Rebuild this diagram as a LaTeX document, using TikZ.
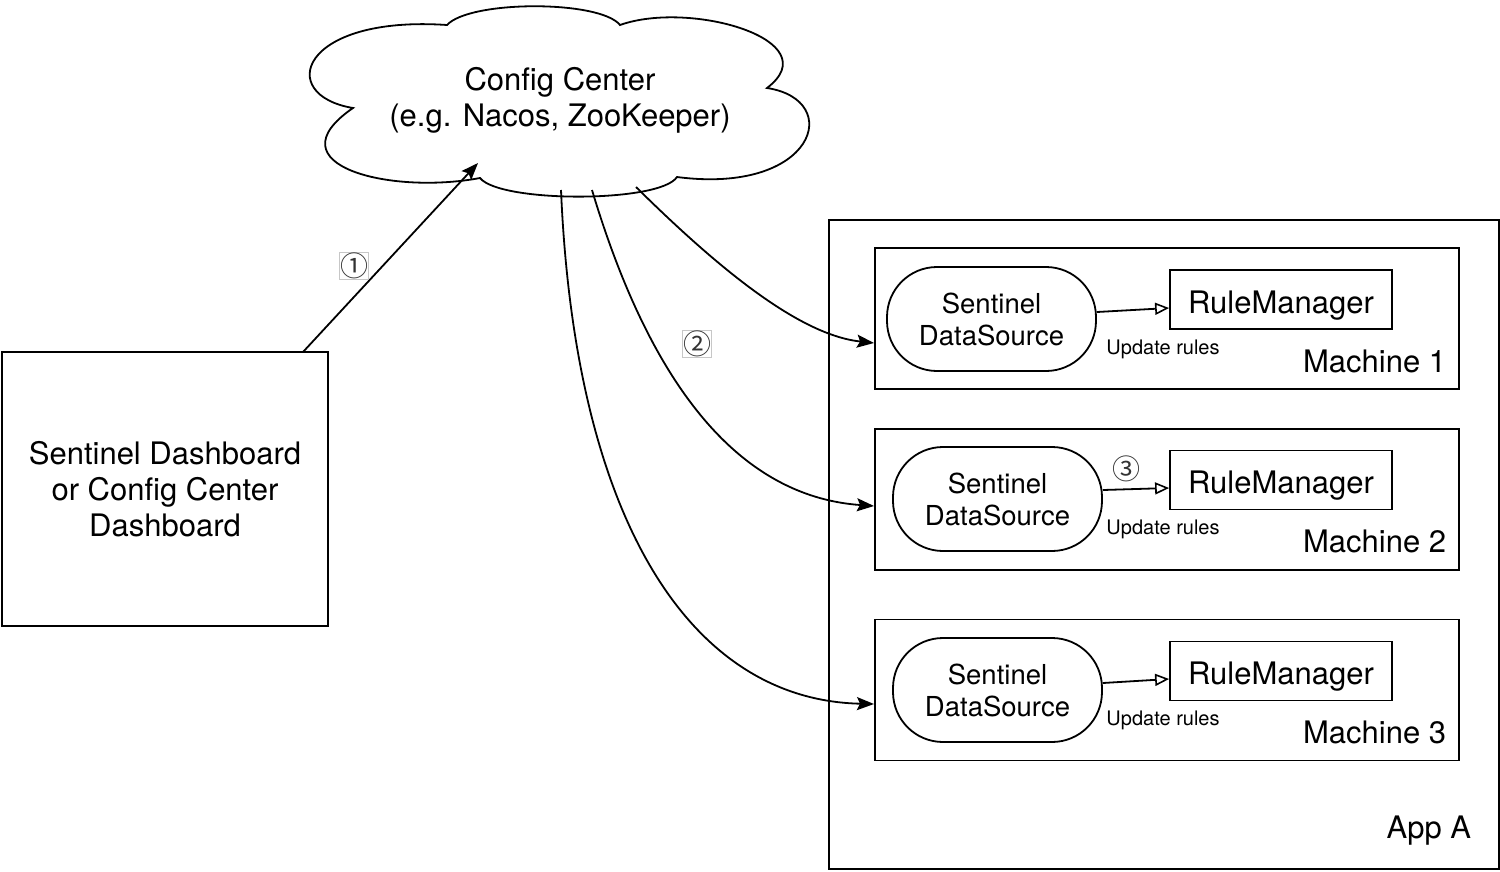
\documentclass[tikz,border=0pt]{standalone}
\usepackage{fontspec}
\setmainfont{TeX Gyre Heros}
\newfontfamily\symfont{Noto Sans CJK SC}
\usetikzlibrary{arrows.meta}
\begin{document}
\begin{tikzpicture}[x=1pt,y=-1pt,line width=1.8pt,
  box/.style={draw,rectangle,inner sep=0pt,align=center},
  big/.style={font=\fontsize{31}{36}\selectfont},
  dsbox/.style={draw,rectangle,rounded corners=50pt,minimum width=209pt,minimum height=104pt,align=center,font=\fontsize{27.5}{32}\selectfont},
  rmbox/.style={draw,rectangle,minimum width=222pt,minimum height=59pt,text height=27pt,text depth=0pt,font=\fontsize{31}{36}\selectfont},
  mbox/.style={draw,rectangle,minimum width=584pt,minimum height=141pt},
  small/.style={font=\fontsize{20}{24}\selectfont},
  num/.style={font=\symfont\fontsize{28}{28}\selectfont,inner sep=0.5pt,text=black!80},
  numbox/.style={num,draw=black!22,line width=0.7pt,fill=white},
  solidarr/.style={-{Stealth[length=17pt,width=13pt,inset=3pt]}},
  openarr/.style={-{Triangle[open,length=14pt,width=12pt,line width=1.6pt]}}]
\useasboundingbox (0,0) rectangle (1500,871);
% cloud
\draw (447,25) .. controls (470,0) and (600,0) .. (620,25)
  .. controls (690,0) and (830,40) .. (767,88)
  .. controls (845,100) and (815,195) .. (677,177)
  .. controls (660,203) and (500,203) .. (480,178)
  .. controls (390,195) and (270,165) .. (353,108)
  .. controls (275,95) and (300,15) .. (447,25) -- cycle;
\node[big,align=center] (cc) at (560,100) {Config Center\\(e.g. Nacos, ZooKeeper)};
\coordinate (c0) at (478,163);
\coordinate (c1) at (636,187);
\coordinate (c2) at (592,190);
\coordinate (c3) at (561,190);
% dashboard
\node[box,big,minimum width=326pt,minimum height=274pt] (db) at (165,489) {Sentinel Dashboard\\or Config Center\\Dashboard};
% app
\node[box,minimum width=670pt,minimum height=649pt] (app) at (1164,544.5) {};
\node[big,anchor=base east,inner sep=0pt] (appl) at (1472,838) {App A};
% machines
\node[mbox] (m1) at (1167,318.5) {};
\node[mbox] (m2) at (1167,499.5) {};
\node[mbox] (m3) at (1167,690) {};
\node[dsbox] (ds1) at (991.5,319) {Sentinel\\DataSource};
\node[dsbox] (ds2) at (997.5,499) {Sentinel\\DataSource};
\node[dsbox] (ds3) at (997.5,690) {Sentinel\\DataSource};
\node[rmbox] (rm1) at (1281,299.5) {RuleManager};
\node[rmbox] (rm2) at (1281,480) {RuleManager};
\node[rmbox] (rm3) at (1281,671) {RuleManager};
\node[big,anchor=base east,inner sep=0pt] (ml1) at (1447,372) {Machine 1};
\node[big,anchor=base east,inner sep=0pt] (ml2) at (1447,552) {Machine 2};
\node[big,anchor=base east,inner sep=0pt] (ml3) at (1447,743) {Machine 3};
\node[small,inner sep=0pt] (u1) at (1163,349) {Update rules};
\node[small,inner sep=0pt] (u2) at (1163,529) {Update rules};
\node[small,inner sep=0pt] (u3) at (1163,720) {Update rules};
% inner arrows
\draw[openarr] ([yshift=7pt]ds1.east) -- ([yshift=-8.5pt]rm1.west);
\draw[openarr] ([yshift=9pt]ds2.east) -- ([yshift=-8pt]rm2.west);
\draw[openarr] ([yshift=7pt]ds3.east) -- ([yshift=-8pt]rm3.west);
% main arrows
\coordinate (dbs) at (303,352);
\draw[solidarr] (dbs) -- (c0);
\coordinate (e1) at (874,343);
\coordinate (e2) at (874,506);
\coordinate (e3) at (874,704);
\draw[solidarr] (c1) .. controls (720,270) and (800,335) .. (e1);
\draw[solidarr] (c2) .. controls (640,350) and (720,495) .. (e2);
\draw[solidarr] (c3) .. controls (575,520) and (690,700) .. (e3);
% numbers
\node[numbox] (n1) at (354,266) {①};
\node[numbox] (n2) at (697,344) {②};
\node[num] (n3) at (1126,469) {③};
\end{tikzpicture}
\end{document}
